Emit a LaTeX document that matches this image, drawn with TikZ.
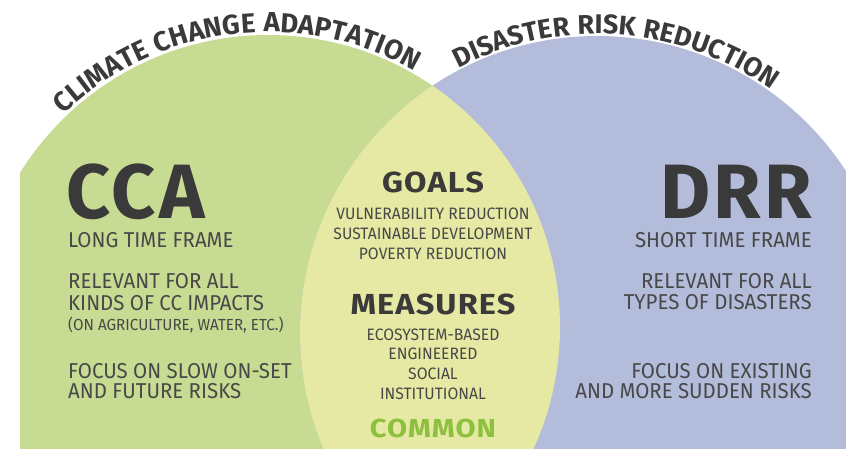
\documentclass[tikz,border=0pt]{standalone}
\usepackage{fontspec}
\usetikzlibrary{decorations.text}
\setsansfont{Fira Sans}
\newfontfamily\condfont[FakeStretch=0.95]{Fira Sans}
\newfontfamily\headfont[LetterSpace=4]{Fira Sans Bold}
\newfontfamily\midfont[FakeStretch=1.12, LetterSpace=4]{Fira Sans Bold}

\definecolor{ccagreen}{HTML}{C8DB93}
\definecolor{drrblue}{HTML}{B3BCDA}
\definecolor{lensyellow}{HTML}{E5E9A3}
\definecolor{commongreen}{HTML}{8DC03F}
\definecolor{darktext}{HTML}{3A3A3A}
\definecolor{bodytext}{HTML}{484848}

\tikzset{
  bigname/.style={font=\headfont\fontsize{77}{77}\selectfont, text=darktext, inner sep=0pt},
  midtitle/.style={font=\midfont\fontsize{29}{29}\selectfont, text=darktext, inner sep=0pt, anchor=base},
  bodyline/.style={font=\condfont\fontsize{21.5}{22}\selectfont, text=bodytext, inner sep=0pt},
  smallline/.style={font=\condfont\fontsize{16}{16}\selectfont, text=bodytext, inner sep=0pt},
  itemline/.style={font=\condfont\fontsize{16.5}{17}\selectfont, text=bodytext, inner sep=0pt, anchor=base},
  arctitle/.style={decorate, decoration={text along path, text align=center, text color=darktext}},
}

\begin{document}
\begin{tikzpicture}[x=1pt, y=1pt]
    \useasboundingbox (0,0) rectangle (846,448);

    % circles
    \begin{scope}
      \clip (20,0) rectangle (846,448);
      \fill[ccagreen] (268,121) circle[radius=292pt];
      \fill[drrblue] (597,115) circle[radius=297pt];
      \clip (268,121) circle[radius=292pt];
      \fill[lensyellow] (597,115) circle[radius=297pt];
    \end{scope}

    % curved titles
    \path[arctitle, decoration={text={|\headfont\fontsize{27.5}{27.5}\selectfont|CLIMATE CHANGE ADAPTATION}}]
      (268,121) ++(145:295) arc[start angle=145, end angle=49, radius=295pt];
    \path[arctitle, decoration={text={|\headfont\fontsize{27}{27}\selectfont|DISASTER RISK REDUCTION}}]
      (597,115) ++(134:299) arc[start angle=134, end angle=38, radius=299pt];

    % left side
    \node[bigname, anchor=base west] (cca) at (66,230) {CCA};
    \node[bodyline, anchor=base west] (ccatime) at (68,201) {LONG TIME FRAME};
    \node[bodyline, anchor=base west] (ccarela) at (68,160) {RELEVANT FOR ALL};
    \node[bodyline, anchor=base west] (ccarelb) at (68,138) {KINDS OF CC IMPACTS};
    \node[smallline, anchor=base west] (ccarelc) at (68,118) {(ON AGRICULTURE, WATER, ETC.)};
    \node[bodyline, anchor=base west] (ccafoca) at (68,70) {FOCUS ON SLOW ON-SET};
    \node[bodyline, anchor=base west] (ccafocb) at (68,50) {AND FUTURE RISKS};

    % right side
    \node[bigname, anchor=base east] (drr) at (812,230) {DRR};
    \node[bodyline, anchor=base east] (drrtime) at (812,201) {SHORT TIME FRAME};
    \node[bodyline, anchor=base east] (drrrela) at (812,160) {RELEVANT FOR ALL};
    \node[bodyline, anchor=base east] (drrrelb) at (812,139) {TYPES OF DISASTERS};
    \node[bodyline, anchor=base east] (drrfoca) at (812,70) {FOCUS ON EXISTING};
    \node[bodyline, anchor=base east] (drrfocb) at (812,50) {AND MORE SUDDEN RISKS};

    % common part
    \node[midtitle] (goals) at (433,255) {GOALS};
    \node[itemline] (goala) at (433,229) {VULNERABILITY REDUCTION};
    \node[itemline] (goalb) at (433,209) {SUSTAINABLE DEVELOPMENT};
    \node[itemline] (goalc) at (433,189) {POVERTY REDUCTION};
    \node[midtitle] (measures) at (433,134) {MEASURES};
    \node[itemline] (measa) at (433,108) {ECOSYSTEM-BASED};
    \node[itemline] (measb) at (433,89) {ENGINEERED};
    \node[itemline] (measc) at (433,69) {SOCIAL};
    \node[itemline] (measd) at (433,49) {INSTITUTIONAL};
    \node[midtitle, text=commongreen, font=\midfont\fontsize{26}{26}\selectfont] (common) at (433,11) {COMMON};

  \end{tikzpicture}
\end{document}
